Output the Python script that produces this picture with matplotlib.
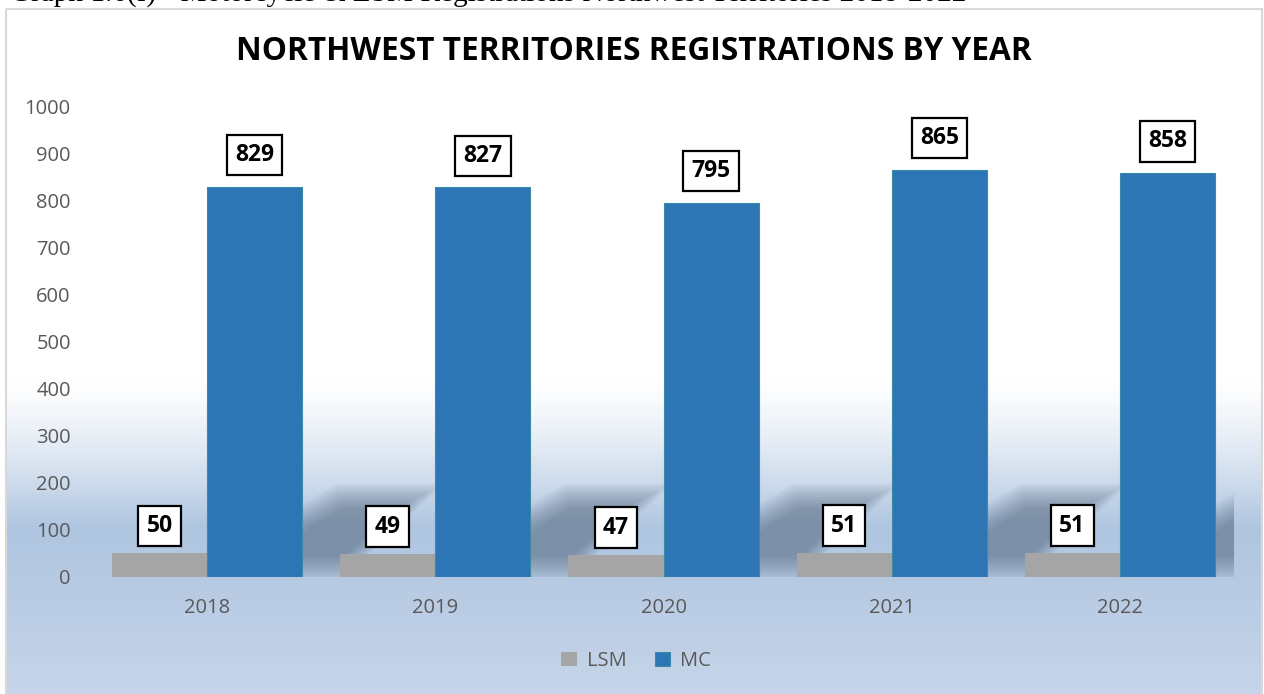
import matplotlib
matplotlib.use("Agg")
import matplotlib.pyplot as plt
import numpy as np
from matplotlib.patches import Rectangle, Polygon
from matplotlib.colors import to_rgb

# data
years = ["2018", "2019", "2020", "2021", "2022"]
lsm = [50, 49, 47, 51, 51]
mc = [829, 827, 795, 865, 858]

header = "Graph 1.6(f) - Motorcycle & LSM Registrations Northwest Territories 2018-2022"
title = "NORTHWEST TERRITORIES REGISTRATIONS BY YEAR"

W, H = 1264, 694
plt.rcParams['font.family'] = ['Open Sans', 'DejaVu Sans']

fig = plt.figure(figsize=(W / 100, H / 100), dpi=100)
fig.patch.set_facecolor('white')

# background gradient inside the chart box
bg = fig.add_axes([0, 0, 1, 1], zorder=-5)
bg.set_xlim(0, W)
bg.set_ylim(H, 0)
bg.axis('off')
top = np.array(to_rgb('#ffffff'))
mid = np.array(to_rgb('#afc5e0'))
bot = np.array(to_rgb('#c6d5e9'))
cols = np.zeros((H, 3))
for y in range(H):
    if y < 375:
        cols[y] = top
    elif y < 525:
        t = ((y - 375) / 150) ** 1.3
        cols[y] = top * (1 - t) + mid * t
    else:
        t = (y - 525) / (H - 525)
        cols[y] = mid * (1 - t) + bot * t
grad = np.repeat(cols[:, None, :], 2, axis=1)
bg.imshow(grad, extent=[6, 1262, H, 9], aspect='auto', interpolation='bilinear')
bg.add_patch(Rectangle((5.5, 8.5), 1256.5, 700, fill=False, edgecolor='#d9d9d9', linewidth=1.5))

# header text, cut off at the top edge like the source page
fig.text(10 / W, 1 - 1.5 / H, header, fontsize=21.1, family='Liberation Serif',
         ha='left', va='baseline', color='black')

ax = fig.add_axes([93 / W, 1 - 577 / H, (1234 - 93) / W, (577 - 106) / H])
ax.patch.set_alpha(0)
x = np.arange(len(years))
bw = 0.417

# soft diagonal shadows cast by the MC bars (layered to fake a blur)
for xi in x:
    r = xi + bw
    pts = np.array([(r - bw, 0), (r + 0.167, 0), (r + 0.59, 190), (r + 0.153, 190), (r - 0.088, 120)])
    c = np.array([r + 0.2, 95])
    for k in range(10):
        f = 1.08 - k * 0.06
        sh = Polygon(c + (pts - c) * f, closed=True, facecolor='#3a4a60', edgecolor='none',
                     alpha=0.05, zorder=1)
        ax.add_patch(sh)

b1 = ax.bar(x - bw / 2, lsm, bw, color='#a5a5a5', label='LSM', zorder=2)
b2 = ax.bar(x + bw / 2, mc, bw, color='#2e75b6', edgecolor='#3b8aa6', linewidth=0.8, label='MC', zorder=2)

box = dict(boxstyle='square,pad=0.36', facecolor='white', edgecolor='black', linewidth=1.6)
for xi, v in zip(x, lsm):
    ax.annotate(str(v), (xi - bw / 2, v), xytext=(0, 11), textcoords='offset points',
                ha='center', va='bottom', fontsize=16.5, fontweight='bold', bbox=box, zorder=5)
for xi, v in zip(x, mc):
    ax.annotate(str(v), (xi + bw / 2, v), xytext=(0, 14), textcoords='offset points',
                ha='center', va='bottom', fontsize=16.5, fontweight='bold', bbox=box, zorder=5)

ax.set_xlim(-0.5, len(years) - 0.5)
ax.set_ylim(0, 1000)
ax.set_yticks(range(0, 1001, 100))
ax.set_xticks(x)
ax.set_xticklabels(years)
for s in ax.spines.values():
    s.set_visible(False)
ax.tick_params(axis='both', length=0, labelsize=14.5, labelcolor='#595959')
ax.tick_params(axis='y', pad=16)
ax.tick_params(axis='x', pad=15)

fig.text(634 / W, 1 - 52 / H, title, fontsize=22.8, fontweight='bold', ha='center', va='center')

fig.legend(handles=[b1, b2], labels=['LSM', 'MC'], loc='center', bbox_to_anchor=(636 / W, 1 - 661 / H),
           ncol=2, frameon=False, fontsize=14.5, labelcolor='#595959', handlelength=0.75, handleheight=0.75,
           handletextpad=0.5, columnspacing=1.4)

fig.savefig('out.png', dpi=100)
